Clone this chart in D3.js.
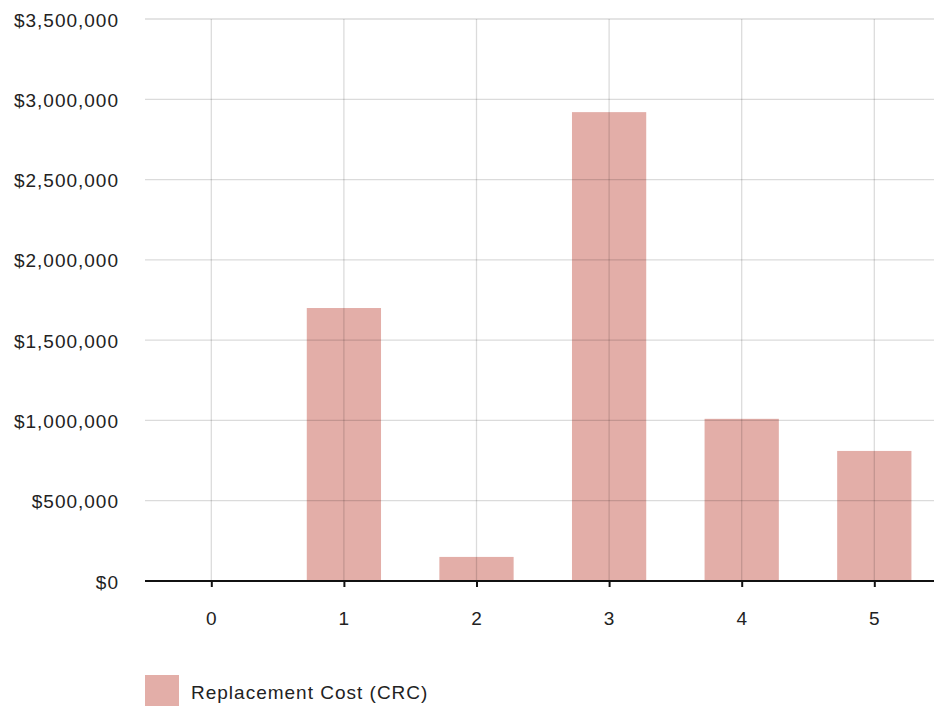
<!DOCTYPE html>
<html>
<head>
<meta charset="utf-8">
<script src="https://cdn.jsdelivr.net/npm/d3@7"></script>
<style>
  html, body { margin: 0; padding: 0; background: #fff; }
  svg { display: block; }
  text { font-family: "Liberation Sans", Arial, sans-serif; fill: #222; letter-spacing: 1px; }
</style>
</head>
<body>
<svg id="chart" width="934" height="706"></svg>
<script>
// Replacement cost by category
const categories = ["0", "1", "2", "3", "4", "5"];
const replacementCost = [0, 1700000, 150000, 2920000, 1010000, 810000];
const yTicks = [0, 500000, 1000000, 1500000, 2000000, 2500000, 3000000, 3500000];
const seriesName = "Replacement Cost (CRC)";

const svg = d3.select("#chart");
const plot = { left: 145, right: 940.6, top: 19, bottom: 581 };
const fontSize = 19;

const x = d3.scalePoint().domain(categories).range([plot.left, plot.right]).padding(0.5);
const step = x.step();
const barWidth = step * 0.56;
const y = d3.scaleLinear().domain([0, 3500000]).range([plot.bottom, plot.top]);

const fmt = v => "$" + d3.format(",")(v);

// bars
svg.append("g").selectAll("rect")
  .data(categories.map((c, i) => ({ c, v: replacementCost[i] })))
  .join("rect")
  .attr("x", d => x(d.c) - barWidth / 2)
  .attr("y", d => y(d.v))
  .attr("width", barWidth)
  .attr("height", d => y(0) - y(d.v))
  .attr("fill", "#e3aea8");

// grid drawn over the bars
const grid = svg.append("g").attr("stroke", "rgba(0,0,0,0.14)").attr("stroke-width", 1.3);
grid.selectAll("line.h").data(yTicks.slice(1)).join("line")
  .attr("class", "h")
  .attr("x1", plot.left).attr("x2", 934)
  .attr("y1", d => y(d)).attr("y2", d => y(d));
grid.selectAll("line.v").data(categories).join("line")
  .attr("class", "v")
  .attr("x1", d => x(d)).attr("x2", d => x(d))
  .attr("y1", plot.top).attr("y2", plot.bottom);

// y axis labels
const yAxis = d3.axisLeft(y).tickValues(yTicks).tickFormat(fmt).tickSize(0).tickPadding(0);
const yg = svg.append("g").attr("transform", "translate(119,1)").call(yAxis);
yg.select(".domain").remove();
yg.selectAll("text").attr("font-size", fontSize).attr("fill", "#222")
  .style("font-family", "'Liberation Sans', Arial, sans-serif");

// x axis
const xAxis = d3.axisBottom(x).tickSize(6).tickPadding(25);
const xg = svg.append("g").attr("transform", `translate(0,${plot.bottom})`).call(xAxis);
xg.select(".domain").remove();
xg.append("line").attr("x1", plot.left).attr("x2", 934).attr("y1", 0).attr("y2", 0)
  .attr("stroke", "#111").attr("stroke-width", 2);
xg.selectAll(".tick line").attr("stroke", "#111").attr("stroke-width", 2);
xg.selectAll("text").attr("font-size", fontSize).attr("fill", "#222")
  .style("font-family", "'Liberation Sans', Arial, sans-serif");

// legend
const legend = svg.append("g").attr("transform", "translate(145,675)");
legend.append("rect").attr("width", 34).attr("height", 32).attr("fill", "#e3aea8");
legend.append("text").attr("x", 46).attr("y", 17).attr("dy", "0.35em")
  .attr("font-size", fontSize).text(seriesName);
</script>
</body>
</html>
